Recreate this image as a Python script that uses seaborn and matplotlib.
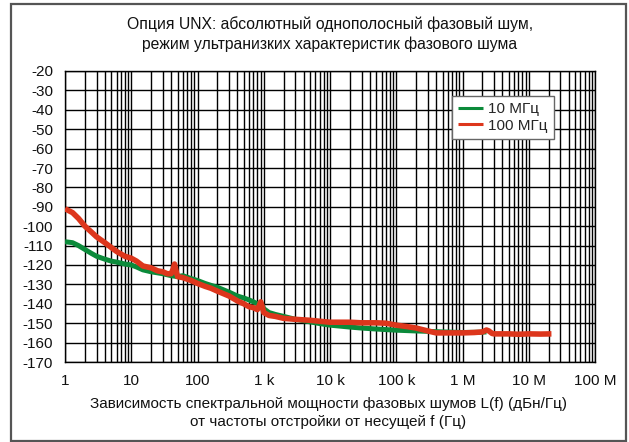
import matplotlib
matplotlib.use("Agg")
import matplotlib.pyplot as plt
import matplotlib.ticker as mticker
from matplotlib.patches import Rectangle
import seaborn as sns
import pandas as pd

# ---- data ----
freq_100 = [1, 1.3, 1.6, 2, 2.5, 3, 4, 5, 6, 8, 10, 12, 15, 20, 25, 30, 35, 40, 43, 45, 47,
            50, 60, 80, 100, 130, 160, 200, 300, 400, 500, 600, 700, 800, 850, 900, 950,
            1000, 1200, 1500, 2000, 3000, 5000, 7000, 1e4, 2e4, 3e4, 5e4, 7e4, 1e5, 1.5e5,
            2e5, 3e5, 4e5, 5e5, 7e5, 1e6, 1.5e6, 2e6, 2.3e6, 2.5e6, 2.8e6, 3e6, 5e6, 7e6,
            1e7, 1.5e7, 2.2e7]
noise_100 = [-91, -93, -96, -100, -103, -105.5, -108.5, -111, -113, -115.5, -116.5, -118,
             -120.5, -121.5, -123, -123.5, -124.5, -124.5, -122, -119.5, -122.5, -126,
             -126.5, -128, -129.5, -131, -132, -133.5, -136, -138.5, -140, -141.5, -142,
             -143, -141, -139, -141.5, -144.5, -146, -146.5, -147.5, -148, -148.5, -149,
             -149.5, -149.5, -149.8, -149.8, -150, -151, -151.8, -152.5, -154, -155, -155,
             -155, -155, -154.8, -154.5, -153.5, -154, -155.3, -155.5, -155.5, -155.7,
             -155.5, -155.6, -155.5]

freq_10 = [1, 1.3, 1.6, 2, 2.5, 3, 4, 5, 6, 8, 10, 12, 15, 20, 30, 40, 50, 60, 80, 100,
           130, 160, 200, 300, 400, 500, 600, 700, 800, 900, 1000, 1200, 1500, 2000, 3000,
           5000, 7000, 1e4, 2e4, 3e4, 5e4, 7e4, 1e5, 2e5, 3e5, 5e5, 1e6, 1.5e6, 2e6, 2.3e6]
noise_10 = [-108, -108.5, -110, -112, -114, -115.5, -117, -118, -118.5, -119.5, -120, -121,
            -122.5, -123.5, -124.5, -125.5, -126, -125.5, -127, -128, -129.5, -130.5,
            -131.5, -134, -136, -137, -138, -139, -140, -139.5, -142.5, -144.5, -145.5,
            -146.5, -148, -149.3, -150.2, -151, -152, -152.5, -153, -153.3, -153.6, -154,
            -154.2, -154.5, -154.8, -154.7, -154.6, -154.5]

series_labels = ["10 МГц", "100 МГц"]
x_ticks = [1, 10, 100, 1e3, 1e4, 1e5, 1e6, 1e7, 1e8]
x_tick_labels = ["1", "10", "100", "1 k", "10 k", "100 k", "1 M", "10 M", "100 M"]
y_ticks = list(range(-20, -171, -10))

title_text = "Опция UNX: абсолютный однополосный фазовый шум,\nрежим ультранизких характеристик фазового шума"
xlabel_text = "Зависимость спектральной мощности фазовых шумов L(f) (дБн/Гц)\nот частоты отстройки от несущей f (Гц)"

GREEN = "#0b8a3a"
RED = "#dd361c"

# ---- plot ----
sns.set_style("white")
plt.rcParams["font.family"] = ["Liberation Sans", "DejaVu Sans"]

fig = plt.figure(figsize=(6.29, 4.42), dpi=100)
ax = fig.add_axes([65 / 629, 1 - 362 / 442, 530 / 629, 291 / 442])

df10 = pd.DataFrame({"f": freq_10, "L": noise_10})
df100 = pd.DataFrame({"f": freq_100, "L": noise_100})
sns.lineplot(data=df10, x="f", y="L", ax=ax, color=GREEN, lw=3.6, sort=False,
             label=series_labels[0], solid_capstyle="butt", zorder=3)
sns.lineplot(data=df100, x="f", y="L", ax=ax, color=RED, lw=4.0, sort=False,
             label=series_labels[1], solid_capstyle="butt", zorder=4)

ax.set_xscale("log")
ax.set_xlim(1, 1e8)
ax.set_ylim(-170, -20)
ax.set_xticks(x_ticks)
ax.set_xticklabels(x_tick_labels)
ax.xaxis.set_minor_locator(mticker.LogLocator(base=10, subs=range(2, 10), numticks=100))
ax.xaxis.set_minor_formatter(mticker.NullFormatter())
ax.set_yticks(y_ticks)
ax.set_yticklabels([str(v) for v in y_ticks])

ax.grid(True, which="major", color="black", lw=1.0)
ax.grid(True, which="minor", axis="x", color="black", lw=1.0)
ax.set_axisbelow(True)
for s in ax.spines.values():
    s.set_color("black")
    s.set_linewidth(1.0)
ax.tick_params(axis="both", which="major", direction="out", length=6, width=1,
               color="black", labelsize=11, labelcolor="#111111", pad=2.5)
ax.tick_params(axis="x", which="minor", length=0)
ax.set_xlabel("")
ax.set_ylabel("")

leg = ax.legend(loc="upper right", bbox_to_anchor=(0.922, 0.913), frameon=True,
                fontsize=11, handlelength=1.6, handletextpad=0.35, borderpad=0.4,
                labelspacing=0.15, fancybox=False, borderaxespad=0)
leg.get_frame().set_edgecolor("#666666")
leg.get_frame().set_linewidth(1.0)
leg.get_frame().set_facecolor("white")
leg.get_frame().set_alpha(1)
for h in leg.get_lines():
    h.set_linewidth(2.2)

fig.text(330 / 629, 1 - 34 / 442, title_text, ha="center", va="center",
         fontsize=11.3, color="#111111", linespacing=1.4)
fig.text(328 / 629, 1 - 413 / 442, xlabel_text, ha="center", va="center",
         fontsize=11, color="#111111", linespacing=1.4)

fig.patches.append(Rectangle((11 / 629, 1 - 441 / 442), 615 / 629, 437 / 442,
                             transform=fig.transFigure, fill=False,
                             edgecolor="#555555", lw=1.6))

fig.savefig("out.png", dpi=100)
